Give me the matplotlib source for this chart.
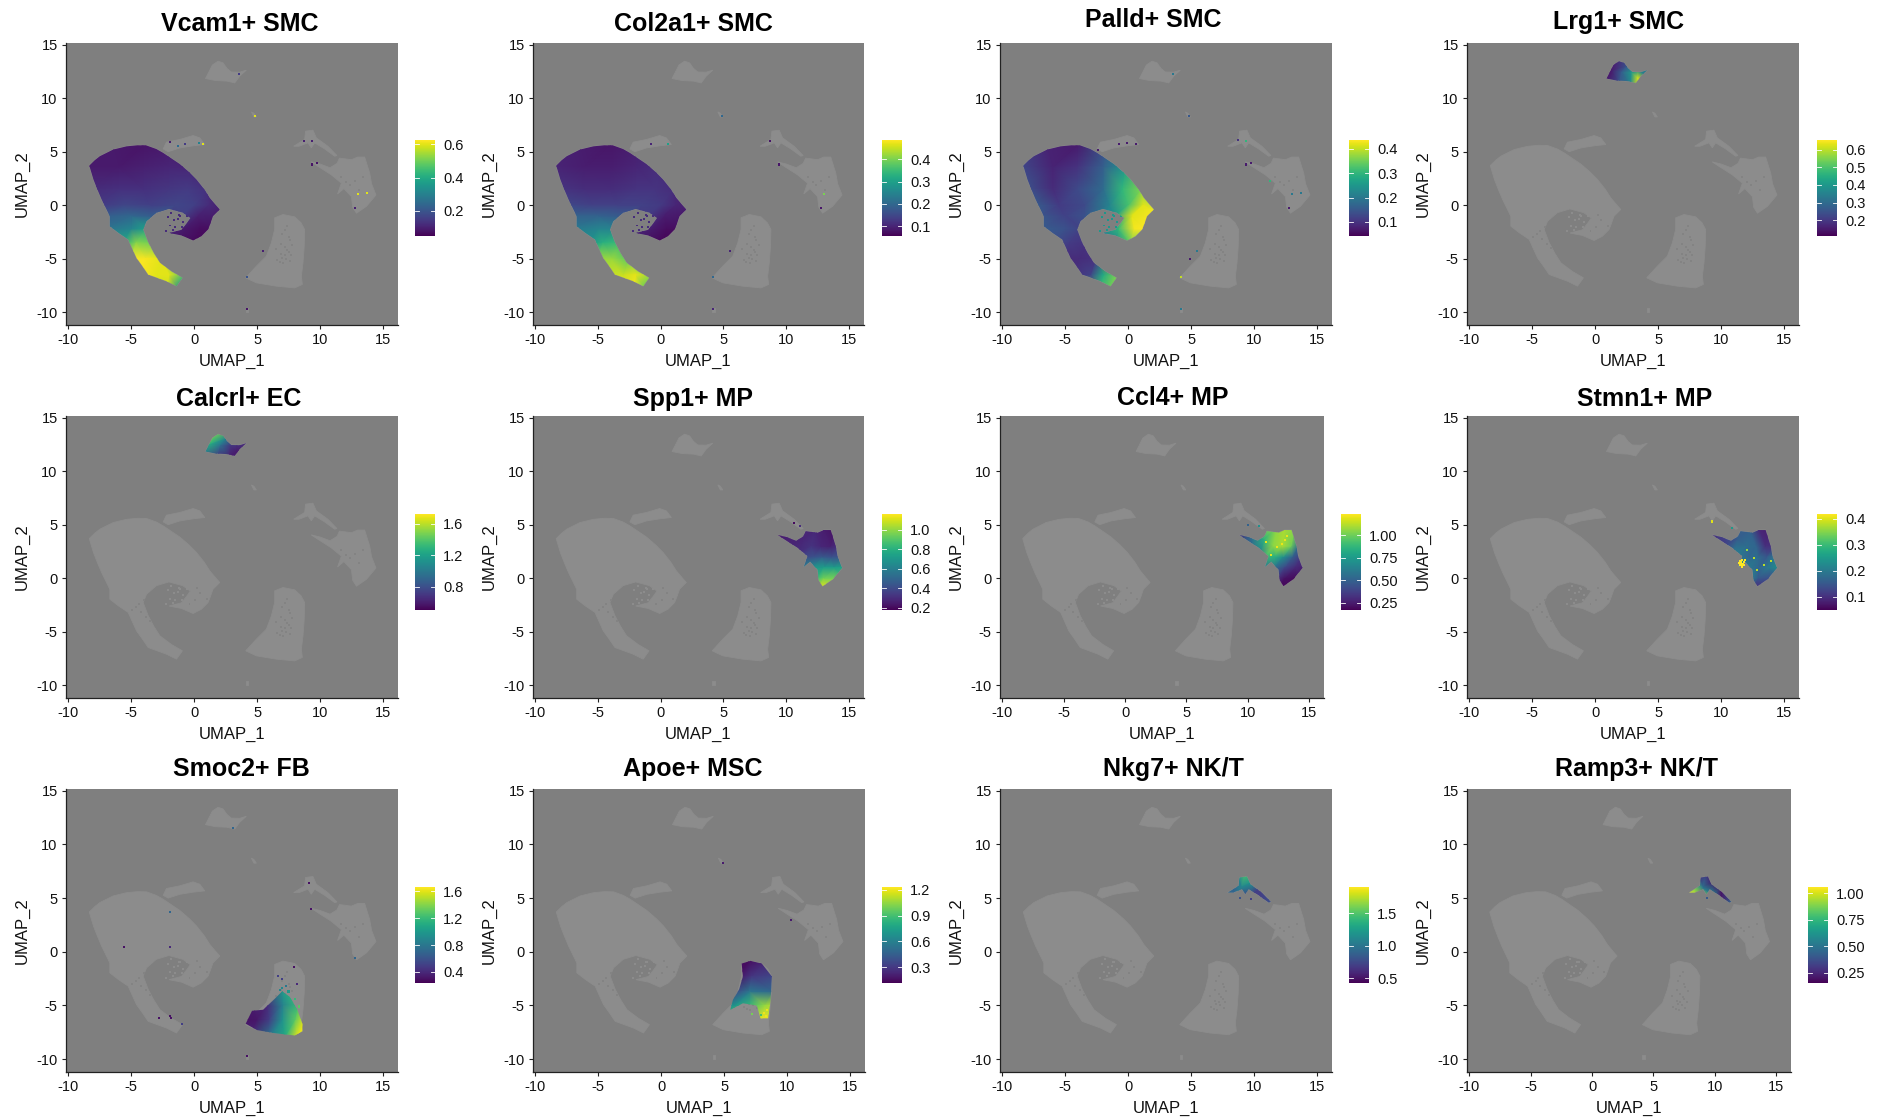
"""Feature plots of the module scores on the shared UMAP, 3 rows by 4 columns."""

import matplotlib

matplotlib.use("Agg")

import matplotlib.pyplot as plt
from matplotlib.cm import ScalarMappable
from matplotlib.colors import Normalize
from matplotlib.patches import Polygon

plt.rcParams["font.family"] = ["Liberation Sans", "DejaVu Sans"]

W, H = 1883, 1120
BG = "#7f7f7f"
CELL = "#8c8c8c"

XTICKS = [-10, -5, 0, 5, 10, 15]
YTICKS = [-10, -5, 0, 5, 10, 15]

# cluster outlines in UMAP coordinates
SMC_OUTLINE = [
    (-8.33, 3.7), (-7.9, 4.2), (-7.49, 4.58), (-6.43, 5.2), (-5.37, 5.5), (-4.5, 5.6), (-3.78, 5.58),
    (-3.0, 5.25), (-2.46, 4.89), (-1.14, 3.85), (-0.4, 3.1), (0.19, 2.4), (0.8, 1.5), (1.24, 0.69),
    (1.7, 0.05), (2.04, -0.4), (1.5, -1.03), (1.3, -1.7), (1.11, -2.27), (0.58, -2.9), (-0.08, -3.3),
    (-1.0, -2.83), (-2.0, -2.6), (-1.0, -2.3), (-0.6, -1.7), (-0.3, -1.2), (-0.9, -0.7), (-2.0, -0.35),
    (-3.0, -0.7), (-3.78, -1.5), (-4.05, -2.27), (-3.65, -3.5), (-3.2, -4.5), (-2.72, -5.39), (-1.8, -6.2),
    (-0.93, -6.79), (-1.4, -7.57), (-2.2, -7.1), (-3.65, -6.48), (-4.1, -5.7), (-4.58, -4.92), (-5.24, -3.2),
    (-6.0, -2.6), (-6.7, -1.96), (-6.7, -1.03), (-7.35, 0.53), (-7.7, 1.5), (-8.0, 2.4),
]
ISLAND_OUTLINE = [
    (0.9, 11.84), (1.15, 12.4), (1.45, 13.1), (1.9, 13.46), (2.3, 13.3), (2.6, 12.8), (2.95, 12.45),
    (3.62, 12.43), (4.15, 12.62), (3.62, 12.06), (3.23, 11.43), (2.6, 11.6), (1.7, 11.65),
]
STRIP_OUTLINE = [
    (-2.46, 5.26), (-2.2, 5.89), (-1.14, 6.14), (-0.08, 6.51), (0.45, 6.29), (0.85, 5.67),
    (-0.08, 5.55), (-1.14, 5.35), (-2.06, 5.0),
]
NK_OUTLINE = [
    (7.91, 5.51), (8.78, 6.14), (8.86, 6.92), (9.44, 7.01), (9.71, 6.29), (10.63, 5.51),
    (11.35, 4.64), (11.17, 4.58), (10.37, 5.26), (9.58, 5.83), (9.31, 5.36), (9.05, 5.83),
    (8.33, 5.51),
]
MP_OUTLINE = [
    (9.3, 4.05), (10.0, 3.85), (10.8, 3.5), (11.35, 3.9), (11.55, 4.4), (12.5, 4.25), (13.0, 4.5),
    (13.55, 4.5), (13.95, 3.0), (14.1, 2.0), (14.45, 0.95), (13.7, -0.1), (12.9, -0.75), (12.6, -0.2),
    (12.5, 0.8), (11.9, 1.55), (11.4, 1.05), (11.7, 2.06), (10.9, 2.84), (9.95, 3.55),
]
FB_OUTLINE = [
    (4.1, -6.79), (4.95, -5.7), (5.74, -4.77), (6.14, -3.52), (6.4, -2.27), (6.4, -1.18),
    (7.06, -0.87), (7.99, -1.09), (8.5, -1.65), (8.78, -2.27), (8.75, -3.8), (8.65, -5.39),
    (8.52, -6.64), (8.6, -7.41), (7.99, -7.73), (6.53, -7.57), (4.95, -7.26),
]
TINY_TOP = [(4.55, 8.72), (4.75, 8.6), (4.95, 8.25), (4.75, 8.25)]
TINY_BOTTOM = [(4.1, -9.65), (4.3, -9.65), (4.3, -9.95), (4.1, -9.95)]
SMOC2_REGION = [
    (4.1, -6.7), (4.6, -5.5), (5.5, -5.4), (6.4, -4.4), (7.0, -3.7), (7.6, -4.2), (8.2, -5.4),
    (8.6, -6.7), (8.6, -7.4), (8.0, -7.8), (6.5, -7.6), (5.0, -7.3),
]
APOE_REGION = [
    (6.4, -1.1), (7.1, -0.85), (8.0, -1.1), (8.8, -2.3), (8.7, -4.5), (8.5, -6.2), (7.9, -6.2),
    (7.6, -5.0), (6.5, -4.8), (5.5, -5.4), (5.7, -4.5), (6.2, -3.5), (6.5, -2.3),
]

# loose cells in the mouth of the C shape, and holes inside the clusters
SPECK_X = [-1.6, -1.2, -1.5, -0.9, -1.8, -2.1, -1.3, -1.9, -1.0, -0.6, -0.8, -0.3, 0.0, -1.7, -2.2, -1.4, -0.5, -1.1]
SPECK_Y = [-1.4, -0.95, -2.0, -1.6, -0.7, -1.1, -1.3, -1.9, -2.0, -1.0, -0.5, -0.7, -0.4, -2.3, -2.4, -2.5, -2.4, -1.0]
GAP_X = [7.2, 7.5, 6.9, 7.4, 6.9, 7.3, 7.7, 7.1, 6.6, 7.8, 7.4, 6.5, 7.0, 7.6, 7.2, 6.8, 7.5, 7.0, 7.2, 7.6,
         -4.0, -4.6, -4.2, -3.8, -4.9, -4.4, -3.5, 0.1, 0.5, -0.4, 1.0, 0.2, 12.1, 12.8, 11.7, 13.1, 12.4, 13.4]
GAP_Y = [-2.3, -3.0, -3.6, -4.2, -4.6, -5.0, -4.7, -5.4, -5.1, -3.7, -1.9, -4.1, -2.7, -3.3, -4.7, -5.3, -4.4, -4.9, -3.9, -5.2,
         -2.0, -2.7, -3.2, -3.6, -3.0, -2.4, -4.0, -2.0, -1.4, -2.4, -1.9, -0.9, 2.2, 2.3, 2.6, 1.4, 1.9, 2.6]

# score anchors read per cluster
SMC_X = [
    -6.5, -4, -2,
    -8.6, -6, -4, -2, -0.3,
    -8, -6, -4, -2, -0.5, 1.0,
    -7.5, -5.5, -3.5, -1.5, 0, 1.2,
    -7, -5, -3.5, -1, 0.3, 2.6,
    -7, -5, -3.8, -2.2, -0.8, 0.5, 1.3,
    -5.6, -4.6, -3.3, -1, 0.2,
    -5, -3.9, -2.6,
    -4.2, -3, -2, -0.8,
    -2.2, -1.2,
]
SMC_Y = [
    5.7, 5.7, 5.7,
    3.6, 3.6, 3.6, 3.6, 3.6,
    1.5, 1.5, 1.5, 1.5, 1.5, 1.5,
    0, 0, 0, 0, 0, 0,
    -1, -1, -1, -1, -1, -1,
    -2.2, -2.2, -2.2, -2.2, -2.2, -2.2, -2.2,
    -3.5, -3.5, -3.5, -3.5, -3.5,
    -5, -5, -5,
    -6.5, -6.5, -6.5, -6.5,
    -7.8, -7.8,
]
VCAM1_V = [
    .09, .08, .09,
    .09, .09, .1, .11, .11,
    .12, .13, .13, .14, .15, .13,
    .15, .17, .16, .17, .16, .12,
    .22, .24, .22, .16, .1, .08,
    .27, .31, .38, .12, .09, .07, .07,
    .4, .52, .5, .07, .06,
    .62, .62, .6,
    .62, .6, .6, .46,
    .58, .35,
]
COL2A1_V = [
    .09, .08, .09,
    .1, .09, .09, .1, .11,
    .12, .11, .11, .12, .12, .11,
    .15, .14, .14, .14, .13, .1,
    .19, .19, .18, .13, .09, .08,
    .23, .25, .25, .11, .09, .07, .07,
    .28, .33, .35, .07, .06,
    .42, .42, .38,
    .45, .45, .47, .42,
    .48, .38,
]
PALLD_V = [
    .08, .07, .13,
    .13, .08, .1, .16, .25,
    .14, .09, .13, .18, .3, .36,
    .16, .11, .13, .22, .32, .42,
    .15, .12, .14, .25, .42, .44,
    .16, .14, .12, .22, .3, .43, .44,
    .13, .11, .1, .22, .35,
    .09, .09, .1,
    .1, .12, .28, .36,
    .32, .36,
]

ISLAND_X = [0.6, 1.2, 1.9, 2.5, 1.3, 2.1, 2.9, 3.4, 4.3, 0.9, 1.9, 2.8, 3.5, 4.2, 3.4]
ISLAND_Y = [12, 13.6, 13.8, 13, 12.5, 12.4, 12.4, 12.6, 12.9, 11.4, 11.4, 11.2, 11.2, 12, 11.9]
LRG1_V = [.15, .15, .18, .25, .15, .27, .4, .38, .3, .15, .25, .35, .6, .3, .62]
CALCRL_V = [1.0, 1.6, 1.5, 1.05, 1.25, .95, .7, .7, .65, .9, .7, .6, .65, .6, .6]

MP_X = [
    9.1, 9.1, 10.3, 10.3, 11.3, 11.0,
    11.4, 12.3, 13.0, 13.8,
    12.0, 12.8, 13.5, 14.1,
    11.4, 12.2, 12.9, 13.6, 14.3,
    11.3, 12.2, 13.0, 13.8, 14.7,
    12.5, 13.0, 13.8, 14.7,
    12.6, 13.2, 13.9,
]
MP_Y = [
    4.2, 3.8, 3.8, 3.0, 3.6, 2.4,
    4.6, 4.6, 4.6, 4.6,
    3, 3, 3, 3,
    2, 2, 2, 2, 2,
    1, 1, 1, 1, 1,
    0, 0, 0, 0,
    -0.9, -0.9, -0.9,
]
SPP1_V = [
    .25, .25, .27, .27, .28, .3,
    .28, .28, .25, .22,
    .32, .28, .26, .3,
    .38, .42, .45, .42, .42,
    .55, .7, .72, .72, .75,
    .85, .95, .95, .9,
    1.1, 1.12, 1.0,
]
CCL4_V = [
    .3, .3, .55, .55, .85, .65,
    1.0, 1.05, 1.1, 1.05,
    1.05, 1.1, 1.0, .55,
    .9, .85, .7, .5, .35,
    .6, .55, .4, .3, .25,
    .3, .22, .2, .2,
    .18, .18, .18,
]
STMN1_V = [
    .1, .1, .12, .12, .16, .2,
    .16, .16, .09, .08,
    .18, .17, .1, .1,
    .2, .17, .18, .15, .2,
    .3, .2, .17, .2, .23,
    .2, .15, .14, .15,
    .1, .1, .1,
]

FB_X = [
    6.2, 7.1, 8.2,
    6.2, 7.2, 8.9,
    5.8, 7.0, 8.8,
    4.7, 5.8, 7, 8.2, 8.9,
    3.8, 5, 6, 7, 8, 8.8,
    4.5, 6, 7.2, 8.2, 8.9,
]
FB_Y = [
    -0.6, -0.6, -0.6,
    -2.3, -2.3, -2.3,
    -3.7, -3.7, -3.7,
    -5, -5, -5, -5, -5,
    -6.3, -6.3, -6.3, -6.3, -6.3, -6.3,
    -7.9, -7.9, -7.9, -7.9, -7.9,
]
SMOC2_V = [
    .4, .4, .4,
    .5, .6, .6,
    .5, 1.0, 1.1,
    .35, .4, .85, 1.2, 1.3,
    .3, .32, .5, .95, 1.3, 1.6,
    .4, .8, 1.1, 1.6, 1.65,
]
APOE_V = [
    .15, .15, .2,
    .18, .3, .35,
    .35, .55, .5,
    .6, .7, .85, 1.05, 1.1,
    .9, .9, 1, 1.05, 1.2, 1.2,
    1, 1, 1, 1.2, 1.2,
]

NK_X = [7.6, 8.4, 8.4, 8.7, 9.3, 9.9, 9.0, 9.8, 10.5, 10.5, 11.5, 11.2]
NK_Y = [5.4, 6.2, 5.2, 7.2, 7.3, 6.5, 6.0, 5.3, 6.0, 5.0, 4.8, 4.3]
NKG7_V = [.95, .9, .9, 1.1, 1.5, 1.2, 1.1, .7, .7, .7, .8, .8]
RAMP3_V = [1.05, .8, 1.0, .25, .3, .2, .5, .6, .2, .2, .45, .45]

# stray positive cells: x, y, score
VCAM1_STRAY = [(4.85, 8.3, .6), (0.7, 5.7, .6), (0.4, 5.8, .3), (-0.7, 5.7, .15), (-1.3, 5.5, .25), (-1.9, 5.9, .1), (3.6, 12.3, .15),
               (8.7, 6.0, .1), (9.4, 6.0, .1), (9.4, 3.8, .08), (9.8, 3.9, .08), (13.0, 1.05, .6), (13.7, 1.1, .6), (12.8, -0.3, .1),
               (5.5, -4.3, .1), (4.2, -6.7, .2), (4.2, -9.7, .08)]
COL2A1_STRAY = [(4.85, 8.3, .2), (0.6, 5.7, .3), (-0.8, 5.7, .1), (8.7, 6.0, .08), (9.4, 3.8, .08), (13.0, 1.05, .4), (12.8, -0.3, .08),
                (5.5, -4.3, .1), (4.2, -6.7, .2), (4.2, -9.7, .1)]
PALLD_STRAY = [(4.85, 8.3, .15), (-2.4, 5.2, .07), (-0.7, 5.7, .07), (-0.1, 5.8, .07), (0.6, 5.7, .07), (3.6, 12.3, .2), (9.4, 6.0, .3),
               (8.7, 6.1, .1), (9.4, 3.8, .07), (9.8, 3.9, .07), (11.3, 2.3, .3), (13.0, 1.05, .2), (13.7, 1.1, .2), (12.8, -0.3, .07),
               (5.5, -4.3, .2), (4.9, -5.0, .07), (4.2, -6.7, .4), (4.2, -9.7, .2)]
LRG1_STRAY = []
CALCRL_STRAY = []
SPP1_STRAY = [(11.1, 4.9, .3), (10.6, 5.2, .2)]
CCL4_STRAY = [(10.0, 5.0, .5), (10.9, 4.9, .7), (13.0, 3.6, 1.2), (12.8, 3.2, 1.2), (13.2, 3.9, 1.2), (12.4, 2.9, 1.2), (11.5, 3.4, 1.2), (11.9, 2.2, 1.2)]
STMN1_STRAY = [(11.5, 1.6, .42), (11.6, 1.4, .42), (11.7, 1.2, .42), (11.8, 1.5, .42), (11.9, 1.7, .42), (11.5, 1.2, .42), (11.7, 1.7, .42),
               (11.6, 1.55, .42), (11.75, 1.35, .42), (11.85, 1.25, .42), (11.45, 1.4, .42), (11.65, 1.05, .42),
               (9.3, 5.3, .4), (10.9, 4.7, .25), (12.6, 1.9, .38), (13.4, 1.2, .38), (12.9, 0.8, .38), (14.0, 1.6, .38), (12.1, 2.6, .36)]
SMOC2_STRAY = [(9.1, 6.4, .3), (9.3, 4.0, .3), (12.8, -0.6, .7), (-5.6, 0.4, .3), (-1.9, 0.4, .4), (-1.9, 3.7, .7), (-2.8, -6.2, .3),
               (-1.9, -6.0, .3), (-1.8, -6.2, .3), (-1.0, -6.7, .5), (3.1, 11.5, .7), (7.9, -1.4, .3), (6.7, -2.3, .5), (7.0, -2.5, .5),
               (7.3, -3.2, .8), (7.0, -3.4, .9), (6.8, -3.6, .9), (8.2, -3.0, .4), (7.5, -3.7, 1.0), (8.0, -4.4, 1.2), (8.3, -5.1, 1.3), (4.2, -9.7, .3)]
APOE_STRAY = [(4.9, 8.3, .2), (10.3, 3.0, .2), (7.2, -5.8, 1.0), (7.9, -5.9, .9), (8.3, -6.0, 1.2), (8.2, -5.7, 1.2), (8.4, -5.4, 1.2)]
NKG7_STRAY = [(8.9, 5.0, .8), (9.8, 4.9, .7)]
RAMP3_STRAY = [(9.4, 5.0, .4)]

TITLES = [
    "Vcam1+ SMC", "Col2a1+ SMC", "Palld+ SMC", "Lrg1+ SMC",
    "Calcrl+ EC", "Spp1+ MP", "Ccl4+ MP", "Stmn1+ MP",
    "Smoc2+ FB", "Apoe+ MSC", "Nkg7+ NK/T", "Ramp3+ NK/T",
]
TITLE_X = [240, 693, 1153, 1619, 239, 693, 1173, 1645, 241, 693, 1173, 1637]
TITLE_Y = [24, 24, 20, 22, 399, 399, 398, 399, 769, 769, 769, 769]

# axes box left, right, top, bottom and colour bar left, in pixels
BOXES = [
    (66, 398, 43, 325, 415), (533, 864, 43, 325, 882), (1000, 1332, 43, 325, 1349), (1467, 1799, 43, 325, 1817),
    (66, 398, 416, 698, 415), (533, 864, 416, 698, 882), (1000, 1324, 416, 698, 1341), (1467, 1799, 416, 698, 1817),
    (66, 398, 789, 1072, 415), (533, 865, 789, 1072, 882), (1000, 1332, 789, 1072, 1349), (1467, 1791, 789, 1072, 1808),
]
BAR_TOP = [140, 140, 140, 140, 514, 514, 514, 514, 887, 887, 887, 887]

PANELS = [
    (SMC_X, SMC_Y, VCAM1_V, SMC_OUTLINE, VCAM1_STRAY, .05, .626, [.2, .4, .6], "{:.1f}", .12),
    (SMC_X, SMC_Y, COL2A1_V, SMC_OUTLINE, COL2A1_STRAY, .056, .487, [.1, .2, .3, .4], "{:.1f}", .11),
    (SMC_X, SMC_Y, PALLD_V, SMC_OUTLINE, PALLD_STRAY, .042, .437, [.1, .2, .3, .4], "{:.1f}", .25),
    (ISLAND_X, ISLAND_Y, LRG1_V, ISLAND_OUTLINE, LRG1_STRAY, .11, .655, [.2, .3, .4, .5, .6], "{:.1f}", None),
    (ISLAND_X, ISLAND_Y, CALCRL_V, ISLAND_OUTLINE, CALCRL_STRAY, .51, 1.72, [.8, 1.2, 1.6], "{:.1f}", None),
    (MP_X, MP_Y, SPP1_V, MP_OUTLINE, SPP1_STRAY, .175, 1.16, [.2, .4, .6, .8, 1.0], "{:.1f}", None),
    (MP_X, MP_Y, CCL4_V, MP_OUTLINE, CCL4_STRAY, .17, 1.234, [.25, .5, .75, 1.0], "{:.2f}", None),
    (MP_X, MP_Y, STMN1_V, MP_OUTLINE, STMN1_STRAY, .05, .418, [.1, .2, .3, .4], "{:.1f}", None),
    (FB_X, FB_Y, SMOC2_V, SMOC2_REGION, SMOC2_STRAY, .235, 1.665, [.4, .8, 1.2, 1.6], "{:.1f}", None),
    (FB_X, FB_Y, APOE_V, APOE_REGION, APOE_STRAY, .12, 1.23, [.3, .6, .9, 1.2], "{:.1f}", None),
    (NK_X, NK_Y, NKG7_V, NK_OUTLINE, NKG7_STRAY, .43, 1.907, [.5, 1.0, 1.5], "{:.1f}", None),
    (NK_X, NK_Y, RAMP3_V, NK_OUTLINE, RAMP3_STRAY, .152, 1.057, [.25, .5, .75, 1.0], "{:.2f}", None),
]


def px_axes(fig, left, right, top, bottom):
    return fig.add_axes([left / W, 1 - bottom / H, (right - left) / W, (bottom - top) / H])


def draw_panel(fig, box, bar_top, title, title_x, title_y, panel):
    xs, ys, vals, region, stray, vmin, vmax, ticks, fmt, speck_val = panel
    left, right, top, bottom, bar_left = box
    ax = px_axes(fig, left, right, top, bottom)
    ax.set_facecolor(BG)
    ax.set_xlim(-10.18, 16.2)
    ax.set_ylim(-11.2, 15.16)

    for outline in (SMC_OUTLINE, ISLAND_OUTLINE, STRIP_OUTLINE, NK_OUTLINE, MP_OUTLINE, FB_OUTLINE, TINY_TOP, TINY_BOTTOM):
        ax.add_patch(Polygon(outline, closed=True, facecolor=CELL, edgecolor=CELL, linewidth=0.6, zorder=1))
    ax.scatter(GAP_X, GAP_Y, s=1.5, marker="s", color="#838383", linewidths=0, zorder=2)

    norm = Normalize(vmin, vmax)
    if speck_val is None:
        ax.scatter(SPECK_X, SPECK_Y, s=2, marker="s", color=CELL, linewidths=0, zorder=2)
    else:
        ax.scatter(SPECK_X, SPECK_Y, s=2, marker="s", c=[speck_val] * len(SPECK_X), cmap="viridis", norm=norm, linewidths=0, zorder=3)

    mesh = ax.tripcolor(xs, ys, vals, shading="gouraud", cmap="viridis", norm=norm, zorder=3)
    clip = Polygon(region, closed=True, transform=ax.transData)
    mesh.set_clip_path(clip)

    if stray:
        ax.scatter([p[0] for p in stray], [p[1] for p in stray], c=[p[2] for p in stray], s=2.2, marker="s",
                   cmap="viridis", norm=norm, linewidths=0, zorder=4)

    ax.set_xticks(XTICKS)
    ax.set_yticks(YTICKS)
    ax.set_xticklabels([str(t) for t in XTICKS])
    ax.set_yticklabels([str(t) for t in YTICKS])
    ax.tick_params(labelsize=10.5, length=3, width=0.8, pad=3, color="#222222", labelcolor="#111111")
    ax.set_xlabel("UMAP_1", fontsize=12, color="#111111", labelpad=5)
    ax.set_ylabel("UMAP_2", fontsize=12, color="#111111", labelpad=5)
    for side in ("top", "right"):
        ax.spines[side].set_visible(False)
    for side in ("left", "bottom"):
        ax.spines[side].set_linewidth(0.9)
        ax.spines[side].set_color("#222222")

    fig.text(title_x / W, 1 - title_y / H, title, ha="center", va="center", fontsize=18, fontweight="bold", color="black")

    cax = px_axes(fig, bar_left, bar_left + 20, bar_top, bar_top + 96)
    bar = fig.colorbar(ScalarMappable(norm=norm, cmap="viridis"), cax=cax)
    bar.outline.set_visible(False)
    bar.set_ticks(ticks)
    bar.set_ticklabels([fmt.format(t) for t in ticks])
    cax.tick_params(length=0, pad=6, labelsize=10.5, labelcolor="#111111")
    for t in ticks:
        cax.plot([0, 0.2], [t, t], color="white", linewidth=0.6, transform=cax.get_yaxis_transform())
        cax.plot([0.8, 1], [t, t], color="white", linewidth=0.6, transform=cax.get_yaxis_transform())


def main():
    fig = plt.figure(figsize=(W / 100, H / 100), dpi=100, facecolor="white")
    for i, panel in enumerate(PANELS):
        draw_panel(fig, BOXES[i], BAR_TOP[i], TITLES[i], TITLE_X[i], TITLE_Y[i], panel)
    fig.savefig("out.png", dpi=100)


if __name__ == "__main__":
    main()
